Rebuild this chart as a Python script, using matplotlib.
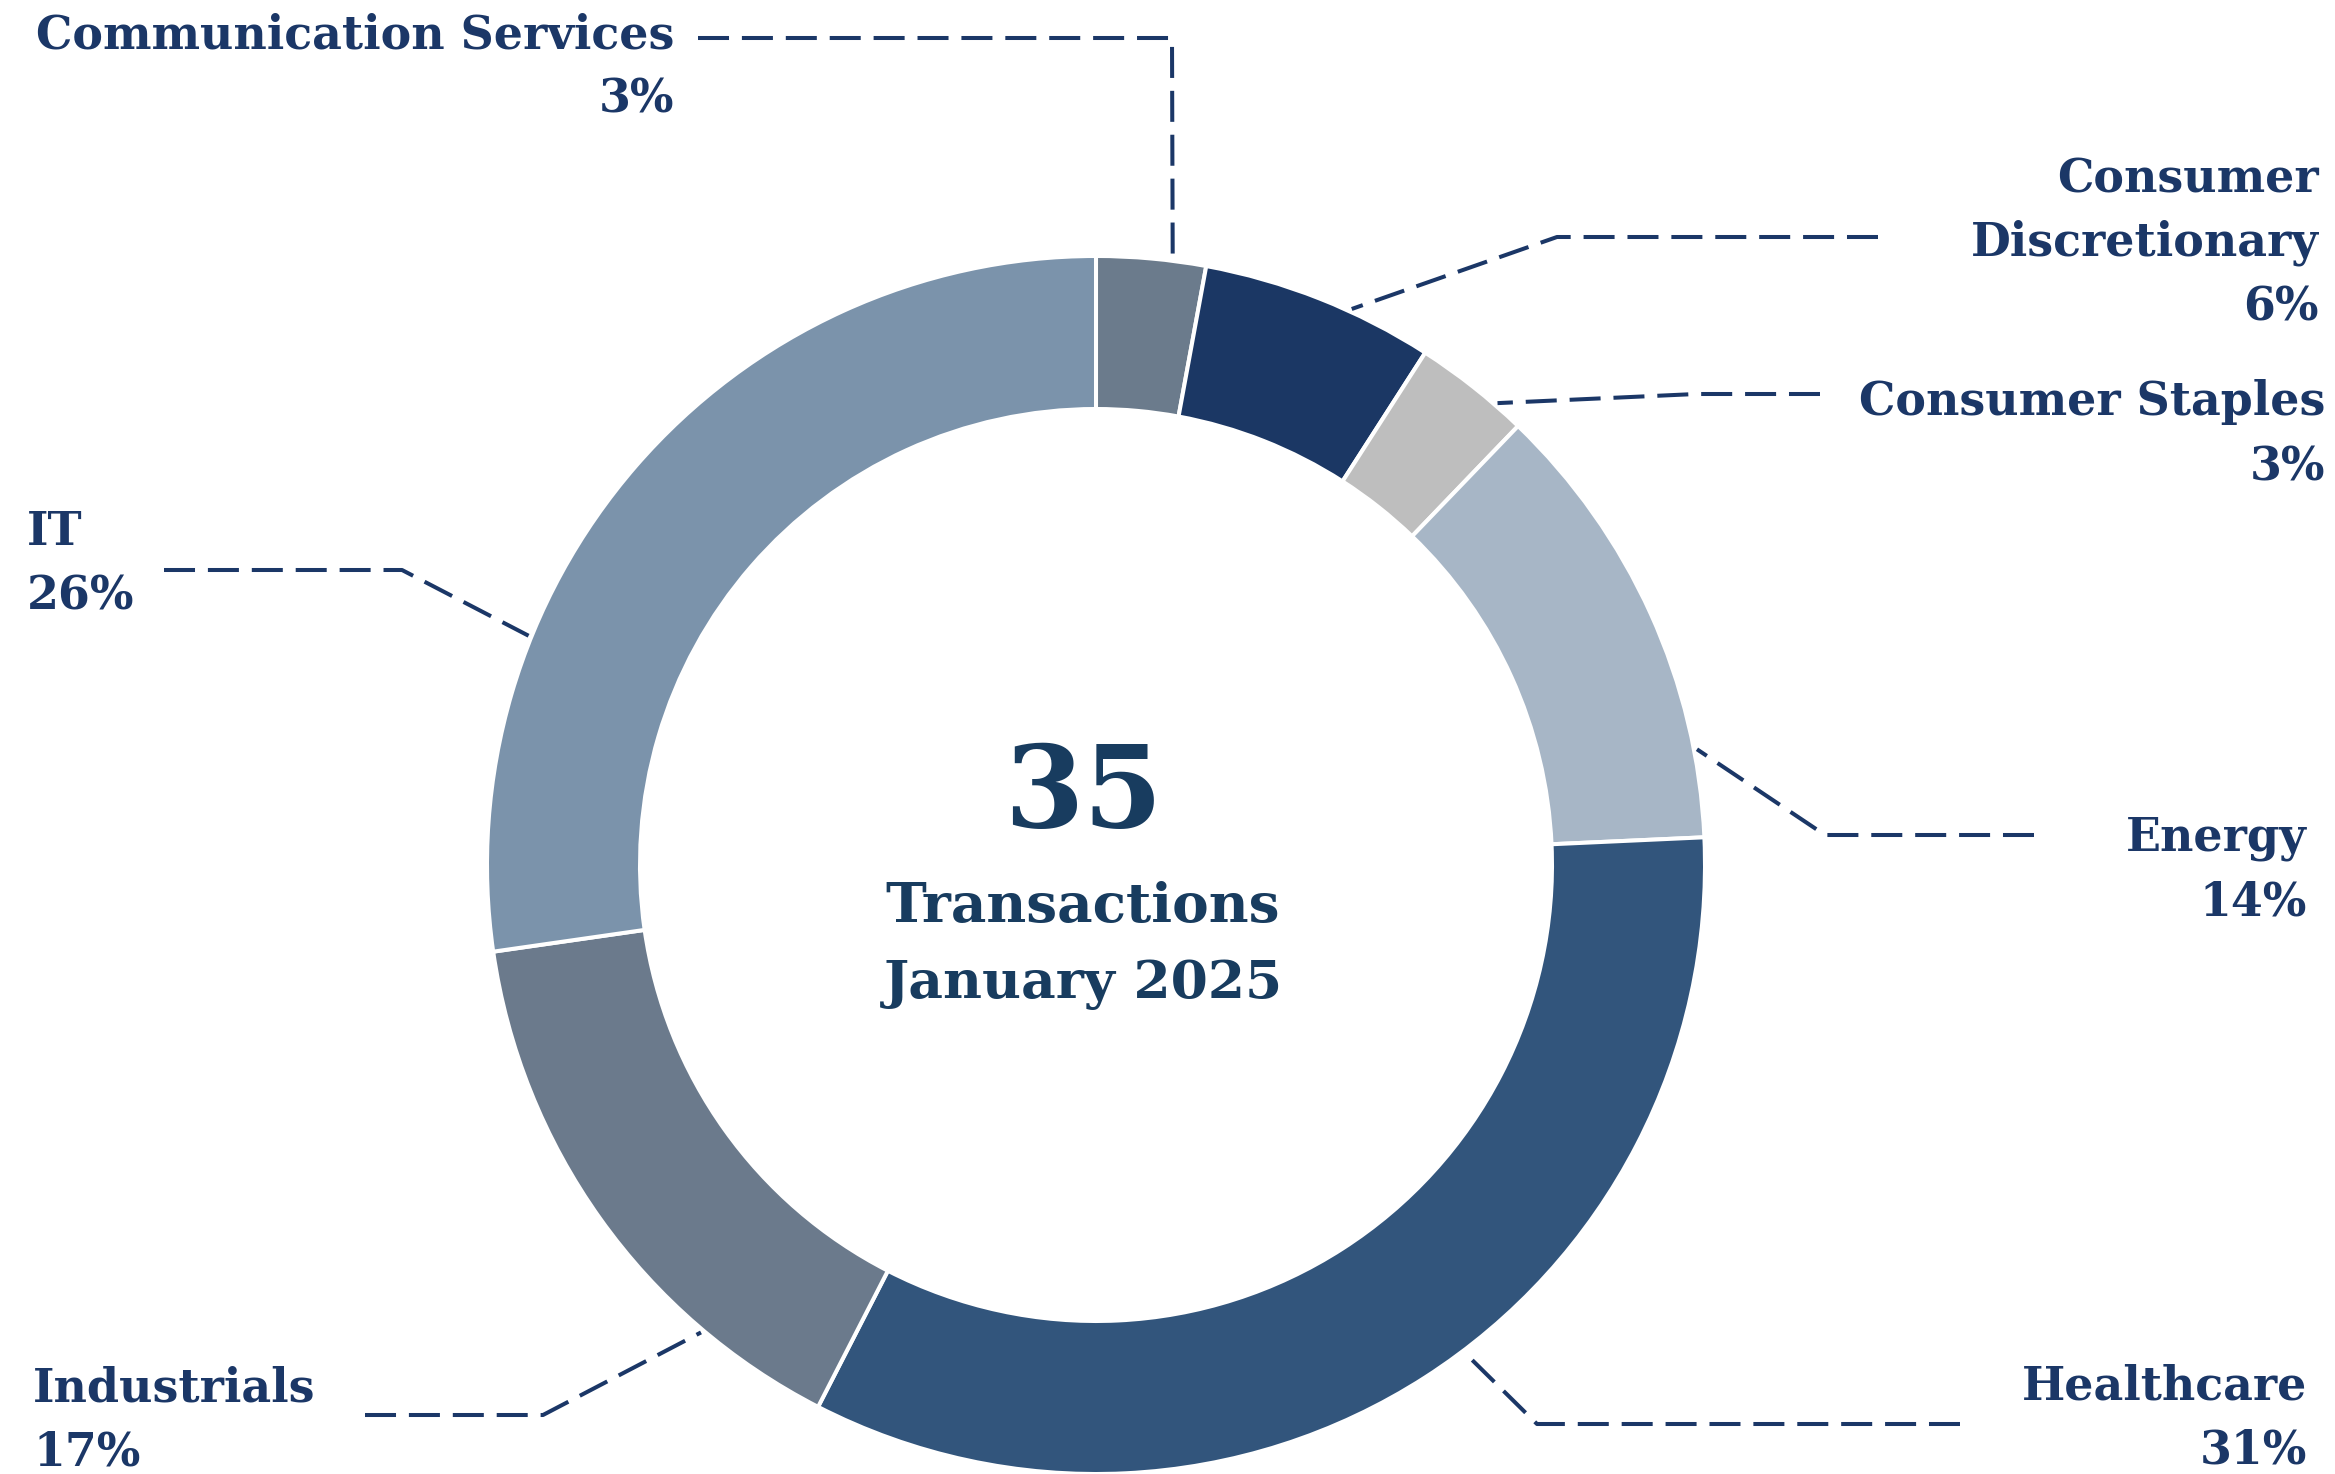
"""Donut chart of January 2025 transactions by sector."""
import matplotlib
matplotlib.use('Agg')
import matplotlib.pyplot as plt
import numpy as np

sectors = [
    'Communication Services',
    'Consumer Discretionary',
    'Consumer Staples',
    'Energy',
    'Healthcare',
    'Industrials',
    'IT',
]
# wedge shares as drawn in the chart (%), and the printed labels
wedge_share = [2.9, 6.2, 3.1, 12.1, 33.3, 15.2, 27.3]
pct_labels = [3, 6, 3, 14, 31, 17, 26]
total_label = '35'
subtitle = ['Transactions', 'January 2025']

colors = ['#6b7b8c', '#1b3764', '#bebebe', '#a7b6c6', '#32557c', '#6b7a8c', '#7b93ab']
LABEL_COLOR = '#1b3767'
CENTER_COLOR = '#183c5f'
FONT = 'DejaVu Serif'

W, H = 2335, 1474
CX, CY = 1096, 865
R = 609
RING = 153

# label layout: (x, ha, baselines, wrap)
label_pos = {
    'Communication Services': (674, 'right', [48, 112], False),
    'Consumer Discretionary': (2319, 'right', [192, 255, 320], True),
    'Consumer Staples': (2325, 'right', [415, 480], False),
    'Energy': (2307, 'right', [850, 915], False),
    'Healthcare': (2307, 'right', [1400, 1463], False),
    'Industrials': (33, 'left', [1402, 1465], False),
    'IT': (27, 'left', [545, 609], False),
}
# leader layout: (anchor angle clockwise from top, elbow, end)
leader_pos = {
    'Communication Services': (7.2, (1172, 38), (698, 38)),
    'Consumer Discretionary': (24.7, (1557, 237), (1878, 237)),
    'Consumer Staples': (41.0, (1696, 394), (1820, 394)),
    'Energy': (79.1, (1825, 835), (2034, 835)),
    'Healthcare': (142.9, (1537, 1424), (1960, 1424)),
    'Industrials': (220.2, (543, 1415), (365, 1415)),
    'IT': (292.0, (402, 570), (164, 570)),
}

fig = plt.figure(figsize=(W / 100, H / 100), dpi=100)
ax = fig.add_axes([0, 0, 1, 1])

# y axis runs downwards, so data angle -90 is the visual top
ax.pie(
    wedge_share,
    colors=colors,
    startangle=-90,
    counterclock=True,
    radius=R,
    center=(CX, CY),
    wedgeprops={'width': RING, 'edgecolor': 'white', 'linewidth': 2.9},
)
ax.set_xlim(0, W)
ax.set_ylim(H, 0)
ax.set_aspect('equal')
ax.axis('off')

for name, pct in zip(sectors, pct_labels):
    x, ha, baselines, wrap = label_pos[name]
    lines = (name.split(' ') if wrap else [name]) + [f'{pct}%']
    for line, yb in zip(lines, baselines):
        ax.text(x, yb, line, ha=ha, va='baseline', fontsize=33,
                fontweight='bold', family=FONT, color=LABEL_COLOR)

    angle, elbow, end = leader_pos[name]
    a = np.deg2rad(angle)
    start = (CX + (R + 3) * np.sin(a), CY - (R + 3) * np.cos(a))
    xs = [end[0], elbow[0], start[0]]
    ys = [end[1], elbow[1], start[1]]
    ax.plot(xs, ys, color=LABEL_COLOR, lw=2.9, linestyle=(0, (7.7, 3.2)),
            solid_joinstyle='miter', dash_capstyle='butt')

ax.text(1083, 827, total_label, ha='center', va='baseline', fontsize=82,
        fontweight='bold', family=FONT, color=CENTER_COLOR)
ax.text(1083, 922, subtitle[0], ha='center', va='baseline', fontsize=39.5,
        fontweight='bold', family=FONT, color=CENTER_COLOR)
ax.text(1083, 998, subtitle[1], ha='center', va='baseline', fontsize=38.5,
        fontweight='bold', family=FONT, color=CENTER_COLOR)

fig.savefig('out.png', dpi=100, facecolor='white')
